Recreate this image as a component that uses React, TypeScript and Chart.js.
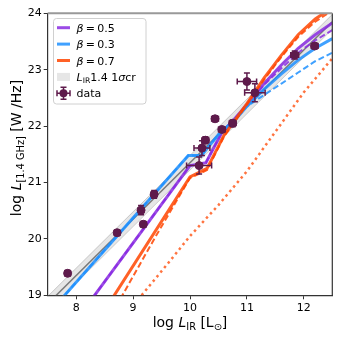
import React, { useEffect, useRef } from "react";
import { Chart, registerables } from "chart.js";

Chart.register(...registerables);

// ---- data ----
const dataX = [7.85, 8.72, 9.14, 9.18, 9.37, 10.16, 10.21, 10.27, 10.44, 10.56, 10.75, 11.0, 11.14, 11.84, 12.19];
const dataY = [19.39, 20.11, 20.51, 20.26, 20.79, 21.3, 21.61, 21.75, 22.13, 21.94, 22.05, 22.79, 22.59, 23.26, 23.42];
const dataXErr = [0.05, 0.05, 0.05, 0.05, 0.05, 0.22, 0.14, 0.06, 0.06, 0.06, 0.06, 0.17, 0.18, 0.07, 0.06];
const dataYErr = [0.05, 0.05, 0.08, 0.05, 0.07, 0.15, 0.13, 0.06, 0.05, 0.05, 0.06, 0.15, 0.16, 0.07, 0.05];

const bandX = [7.5, 12.5];
const bandCenter = [18.85, 23.85];
const bandHalfWidth = 0.13;

const blueX = [7.5, 9.97, 10.2, 10.5, 10.8, 11.0, 11.3, 11.6, 11.9, 12.2, 12.5];
const blueSolidY = [18.66, 21.48, 21.48, 21.85, 22.12, 22.35, 22.65, 22.92, 23.17, 23.38, 23.55];
const blueDashedY = [18.66, 21.48, 21.48, 21.85, 22.12, 22.35, 22.55, 22.75, 22.95, 23.15, 23.3];

const purpleX = [8.2, 10.0, 10.28, 10.55, 10.8, 11.0, 11.3, 11.6, 11.9, 12.2, 12.5];
const purpleSolidY = [18.83, 21.3, 21.35, 21.87, 22.15, 22.38, 22.75, 23.08, 23.38, 23.62, 23.83];
const purpleDashedY = [18.83, 21.3, 21.35, 21.87, 22.15, 22.38, 22.73, 23.02, 23.3, 23.52, 23.7];

const orangeX = [8.6, 10.0, 10.3, 10.6, 11.0, 11.3, 11.6, 11.9, 12.2, 12.5];
const orangeSolidY = [18.89, 21.1, 21.25, 21.84, 22.4, 22.85, 23.25, 23.62, 23.9, 24.1];
const orangeDashedX = [8.7, 9.4, 10.0, 10.3, 10.6, 11.0, 11.3, 11.6, 11.9, 12.2, 12.5];
const orangeDashedY = [18.8, 20.05, 21.08, 21.22, 21.82, 22.38, 22.82, 23.22, 23.58, 23.85, 24.05];
const orangeDottedX = [9.15, 9.6, 10.0, 10.5, 11.0, 11.5, 12.0, 12.5];
const orangeDottedY = [19.0, 19.55, 20.05, 20.6, 21.2, 21.9, 22.6, 23.2];

const xTicks = [8, 9, 10, 11, 12];
const yTicks = [19, 20, 21, 22, 23, 24];

const PURPLE = "rgba(138,43,226,0.85)";
const BLUE = "rgba(30,144,255,0.85)";
const ORANGE = "rgba(255,69,0,0.85)";
const ORANGE_DOT = "rgba(255,69,0,0.75)";
const DATA_C = "#5e1a4b";
const FONT = "'DejaVu Sans', sans-serif";

const pts = (xs: number[], ys: number[]) => xs.map((x, i) => ({ x, y: ys[i] }));

type Seg = { t: string; it?: boolean; sub?: boolean };

function drawRich(ctx: CanvasRenderingContext2D, segs: Seg[], x: number, y: number, size: number, align: "left" | "center") {
  const fontFor = (s: Seg) => `${s.it ? "oblique " : ""}${s.sub ? size * 0.7 : size}px ${FONT}`;
  let total = 0;
  for (const s of segs) {
    ctx.font = fontFor(s);
    total += ctx.measureText(s.t).width;
  }
  let cx = align === "center" ? x - total / 2 : x;
  ctx.textBaseline = "alphabetic";
  ctx.textAlign = "left";
  for (const s of segs) {
    ctx.font = fontFor(s);
    ctx.fillText(s.t, cx, s.sub ? y + size * 0.22 : y);
    cx += ctx.measureText(s.t).width;
  }
}

const customPlugin = {
  id: "custom",
  beforeDatasetDraw(chart: any, args: any) {
    if (args.index !== 0) return;
    const ctx = chart.ctx as CanvasRenderingContext2D;
    const xs = chart.scales.x;
    const ys = chart.scales.y;
    ctx.save();
    ctx.strokeStyle = DATA_C;
    ctx.lineWidth = 1.5;
    const cap = 3;
    for (let i = 0; i < dataX.length; i++) {
      const px = xs.getPixelForValue(dataX[i]);
      const py = ys.getPixelForValue(dataY[i]);
      const x0 = xs.getPixelForValue(dataX[i] - dataXErr[i]);
      const x1 = xs.getPixelForValue(dataX[i] + dataXErr[i]);
      const y0 = ys.getPixelForValue(dataY[i] - dataYErr[i]);
      const y1 = ys.getPixelForValue(dataY[i] + dataYErr[i]);
      ctx.beginPath();
      ctx.moveTo(x0, py); ctx.lineTo(x1, py);
      ctx.moveTo(px, y0); ctx.lineTo(px, y1);
      ctx.moveTo(x0, py - cap); ctx.lineTo(x0, py + cap);
      ctx.moveTo(x1, py - cap); ctx.lineTo(x1, py + cap);
      ctx.moveTo(px - cap, y0); ctx.lineTo(px + cap, y0);
      ctx.moveTo(px - cap, y1); ctx.lineTo(px + cap, y1);
      ctx.stroke();
    }
    ctx.restore();
  },
  afterDraw(chart: any) {
    const ctx = chart.ctx as CanvasRenderingContext2D;
    const a = chart.chartArea;
    ctx.save();
    // right & top spines
    ctx.strokeStyle = "#333";
    ctx.lineWidth = 1.2;
    ctx.beginPath();
    ctx.moveTo(a.right, a.top);
    ctx.lineTo(a.right, a.bottom);
    ctx.stroke();
    ctx.strokeStyle = "#999";
    ctx.lineWidth = 2;
    ctx.beginPath();
    ctx.moveTo(a.left, a.top);
    ctx.lineTo(a.right, a.top);
    ctx.stroke();

    // legend
    const lx = 53.5, ly = 18.5, lw = 92.5, lh = 85.5;
    ctx.fillStyle = "rgba(255,255,255,0.85)";
    ctx.strokeStyle = "#d0d0d0";
    ctx.lineWidth = 1;
    ctx.beginPath();
    (ctx as any).roundRect(lx, ly, lw, lh, 3);
    ctx.fill();
    ctx.stroke();
    const rows = [27.7, 44.1, 60.5, 76.9, 93.3];
    const hx0 = 57, hx1 = 70, tx = 76.5, fs = 11;
    const lineCols = [PURPLE, BLUE, ORANGE];
    const labels = ["0.5", "0.3", "0.7"];
    for (let i = 0; i < 3; i++) {
      ctx.strokeStyle = lineCols[i];
      ctx.lineWidth = 3;
      ctx.beginPath();
      ctx.moveTo(hx0, rows[i]);
      ctx.lineTo(hx1, rows[i]);
      ctx.stroke();
      ctx.fillStyle = "#000";
      drawRich(ctx, [{ t: "β", it: true }, { t: "\u2009=\u2009" + labels[i] }], tx, rows[i] + 4, fs, "left");
    }
    ctx.fillStyle = "#e6e6e6";
    ctx.fillRect(hx0, rows[3] - 4, hx1 - hx0, 8);
    ctx.fillStyle = "#000";
    drawRich(ctx, [{ t: "L", it: true }, { t: "IR", sub: true }, { t: "1.4 1" }, { t: "σ", it: true }, { t: "cr" }], tx, rows[3] + 4, fs, "left");
    // data handle
    const cxh = (hx0 + hx1) / 2, cyh = rows[4];
    ctx.strokeStyle = DATA_C;
    ctx.lineWidth = 1.5;
    ctx.beginPath();
    ctx.moveTo(hx0, cyh); ctx.lineTo(hx1, cyh);
    ctx.moveTo(cxh, cyh - 6); ctx.lineTo(cxh, cyh + 6);
    ctx.moveTo(hx0, cyh - 3); ctx.lineTo(hx0, cyh + 3);
    ctx.moveTo(hx1, cyh - 3); ctx.lineTo(hx1, cyh + 3);
    ctx.moveTo(cxh - 3, cyh - 6); ctx.lineTo(cxh + 3, cyh - 6);
    ctx.moveTo(cxh - 3, cyh + 6); ctx.lineTo(cxh + 3, cyh + 6);
    ctx.stroke();
    ctx.fillStyle = DATA_C;
    ctx.beginPath();
    ctx.arc(cxh, cyh, 4, 0, Math.PI * 2);
    ctx.fill();
    ctx.fillStyle = "#000";
    drawRich(ctx, [{ t: "data" }], tx, rows[4] + 4, fs, "left");

    // axis labels
    ctx.fillStyle = "#000";
    drawRich(ctx, [{ t: "log " }, { t: "L", it: true }, { t: "IR", sub: true }, { t: " [L" }, { t: "⊙", sub: true }, { t: "]" }], (a.left + a.right) / 2, 327, 14, "center");
    ctx.save();
    ctx.translate(21, 148);
    ctx.rotate(-Math.PI / 2);
    drawRich(ctx, [{ t: "log " }, { t: "L", it: true }, { t: "[1.4 GHz]", sub: true }, { t: " [W /Hz]" }], 0, 0, 14, "center");
    ctx.restore();
    ctx.restore();
  },
};

export default function App() {
  const ref = useRef<HTMLCanvasElement | null>(null);
  useEffect(() => {
    if (!ref.current) return;
    const lineDs = (data: any[], color: string, width: number, dash: number[] = [], extra: any = {}) => ({
      type: "line",
      data,
      borderColor: color,
      borderWidth: width,
      borderDash: dash,
      pointRadius: 0,
      fill: false,
      tension: 0,
      ...extra,
    });
    const chart = new Chart(ref.current, {
      type: "scatter",
      data: {
        datasets: [
          {
            type: "scatter",
            data: pts(dataX, dataY),
            backgroundColor: DATA_C,
            borderColor: DATA_C,
            pointRadius: 4,
            pointHoverRadius: 4,
          } as any,
          lineDs(pts(orangeDottedX, orangeDottedY), ORANGE_DOT, 2.5, [2.5, 3.4], { borderCapStyle: "butt" }),
          lineDs(pts(orangeDashedX, orangeDashedY), ORANGE, 2, [6, 3]),
          lineDs(pts(orangeX, orangeSolidY), ORANGE, 3),
          lineDs(pts(blueX, blueDashedY), BLUE, 2, [6, 3]),
          lineDs(pts(blueX, blueSolidY), BLUE, 3),
          lineDs(pts(purpleX, purpleDashedY), PURPLE, 2, [6, 3]),
          lineDs(pts(purpleX, purpleSolidY), PURPLE, 3),
          lineDs(pts(bandX, bandCenter), "rgba(110,110,110,0.9)", 1.5),
          lineDs(pts(bandX, bandCenter.map((v) => v + bandHalfWidth)), "rgba(170,170,170,0.6)", 1, [], { fill: "+1", backgroundColor: "rgba(200,200,200,0.45)" }),
          lineDs(pts(bandX, bandCenter.map((v) => v - bandHalfWidth)), "rgba(170,170,170,0.6)", 1),
        ] as any,
      },
      options: {
        animation: false,
        responsive: false,
        maintainAspectRatio: false,
        events: [],
        layout: { padding: { left: 0, right: 8.7, top: 13.3, bottom: 0 } },
        plugins: { legend: { display: false }, tooltip: { enabled: false } },
        scales: {
          x: {
            type: "linear",
            min: 7.5,
            max: 12.5,
            afterBuildTicks: (s: any) => { s.ticks = xTicks.map((v) => ({ value: v })); },
            afterFit: (s: any) => { s.height = 341 - 295.3; },
            ticks: { color: "#000", font: { family: FONT, size: 11 }, padding: 2, maxRotation: 0 },
            grid: { drawOnChartArea: false, drawTicks: true, tickLength: 4, color: "#333" },
            border: { display: true, color: "#333", width: 1.2 },
          },
          y: {
            type: "linear",
            min: 19,
            max: 24,
            afterBuildTicks: (s: any) => { s.ticks = yTicks.map((v) => ({ value: v })); },
            afterFit: (s: any) => { s.width = 47.7; },
            ticks: { color: "#000", font: { family: FONT, size: 11 }, padding: 2 },
            grid: { drawOnChartArea: false, drawTicks: true, tickLength: 4, color: "#333" },
            border: { display: true, color: "#333", width: 1.2 },
          },
        },
      } as any,
      plugins: [customPlugin as any],
    });
    return () => chart.destroy();
  }, []);
  return (
    <div style={{ position: "fixed", left: 0, top: 0, width: 341, height: 341, background: "#fff" }}>
      <canvas ref={ref} width={341} height={341} style={{ width: 341, height: 341 }} />
    </div>
  );
}
